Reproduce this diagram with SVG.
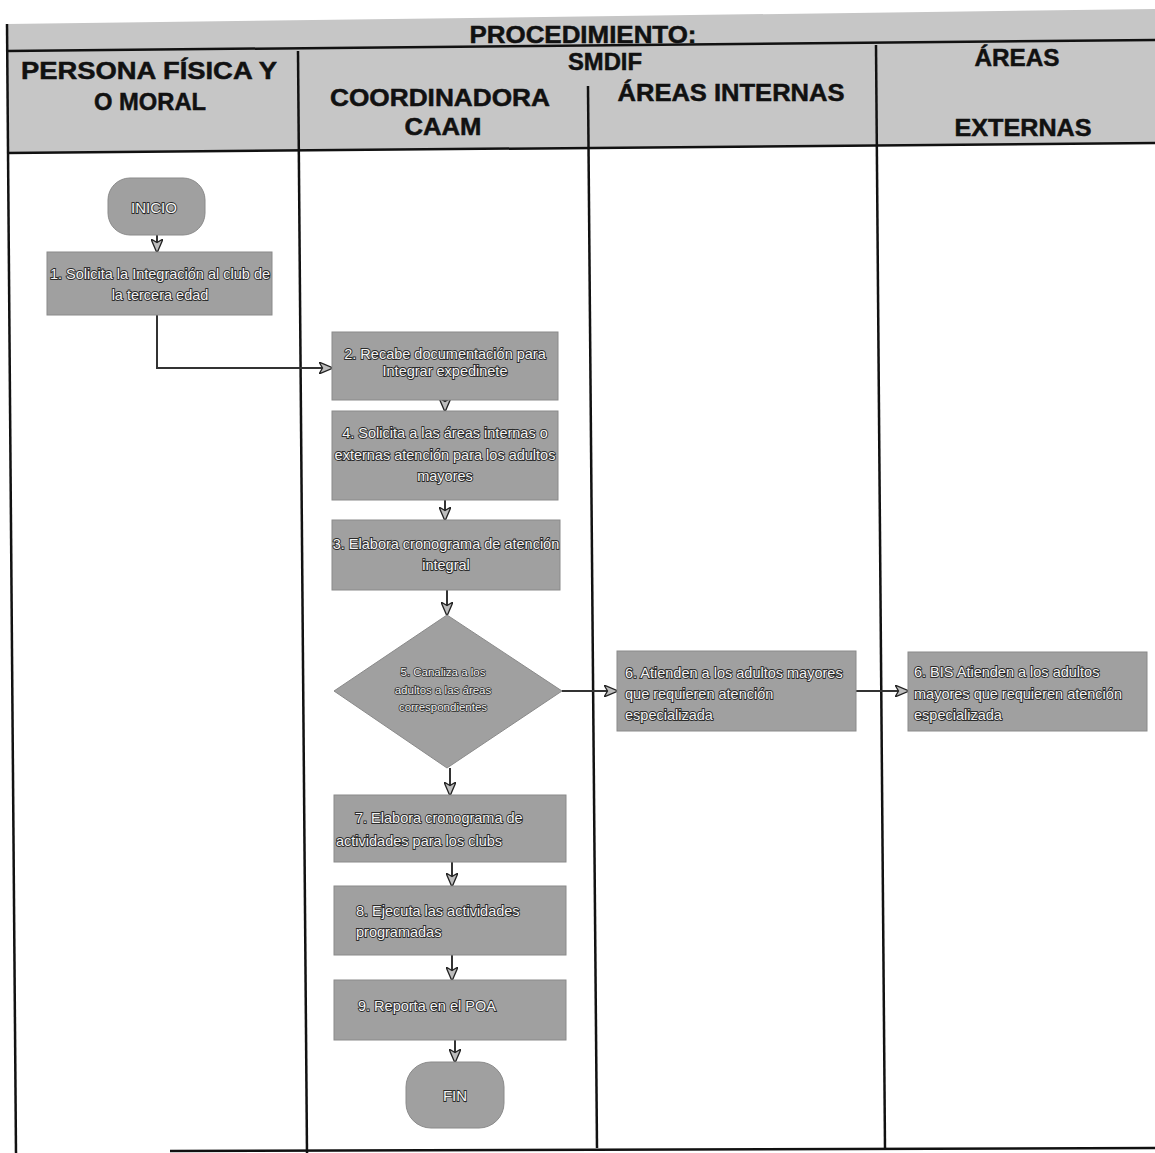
<svg xmlns="http://www.w3.org/2000/svg" width="1155" height="1153" viewBox="0 0 1155 1153">
  <defs>
    <style>
      .hdr { font-family: "Liberation Sans", Arial, sans-serif; font-weight: bold; font-size: 24px; fill: #111; stroke: #111; stroke-width: 0.5; text-anchor: middle; }
      .node { fill: #a0a0a0; stroke: #8a8a8a; stroke-width: 1; }
      .lbl { font-family: "Liberation Sans Narrow", "Liberation Sans", sans-serif; font-size: 14.5px; fill: #f4f4f4; stroke: #2a2a2a; stroke-width: 1.8; paint-order: stroke; }
      .mid { text-anchor: middle; }
      .small { font-size: 11.5px; stroke-width: 1.5; }
      .term { font-size: 15px; }
      .grid { stroke: #111; stroke-width: 2.5; fill: none; }
      .flow { stroke: #333; stroke-width: 2; fill: none; marker-end: url(#arrow); }
    </style>
    <marker id="arrow" viewBox="0 0 14 12" refX="13" refY="6" markerWidth="14" markerHeight="12" markerUnits="userSpaceOnUse" orient="auto">
      <path d="M0,0 L14,6 L0,12 L3.5,6 Z" fill="#bdbdbd" stroke="#222" stroke-width="1.3"/>
    </marker>
  </defs>

  <rect width="1155" height="1153" fill="#ffffff"/>

  <!-- header band with the lane grid -->
  <g id="header">
    <polygon points="7,24 1155,9 1155,143 7,153" fill="#c6c6c6"/>
    <g class="grid">
      <line x1="7" y1="51" x2="1155" y2="40"/>
      <line x1="7" y1="153" x2="1155" y2="143"/>
      <line x1="7" y1="24" x2="16" y2="1153"/>
      <line x1="298" y1="51" x2="307" y2="1153"/>
      <line x1="588" y1="86" x2="597" y2="1148"/>
      <line x1="876" y1="45" x2="885" y2="1148"/>
      <line x1="170" y1="1151" x2="1155" y2="1148"/>
    </g>
    <text class="hdr" x="583" y="43" textLength="227" lengthAdjust="spacingAndGlyphs">PROCEDIMIENTO:</text>
    <text class="hdr" x="149" y="79" textLength="256" lengthAdjust="spacingAndGlyphs">PERSONA FÍSICA Y</text>
    <text class="hdr" x="150" y="110" textLength="112" lengthAdjust="spacingAndGlyphs">O MORAL</text>
    <text class="hdr" x="605" y="70" textLength="74" lengthAdjust="spacingAndGlyphs">SMDIF</text>
    <text class="hdr" x="440" y="106" textLength="220" lengthAdjust="spacingAndGlyphs">COORDINADORA</text>
    <text class="hdr" x="443" y="135" textLength="77" lengthAdjust="spacingAndGlyphs">CAAM</text>
    <text class="hdr" x="731" y="101" textLength="227" lengthAdjust="spacingAndGlyphs">ÁREAS INTERNAS</text>
    <text class="hdr" x="1017" y="66" textLength="85" lengthAdjust="spacingAndGlyphs">ÁREAS</text>
    <text class="hdr" x="1023" y="136" textLength="137" lengthAdjust="spacingAndGlyphs">EXTERNAS</text>
  </g>

  <!-- connectors -->
  <g id="connectors">
    <path class="flow" d="M157,235 V252"/>
    <path class="flow" d="M157,315 V368 H332"/>
    <path class="flow" d="M445,400 V411"/>
    <path class="flow" d="M445,500 V520"/>
    <path class="flow" d="M447,590 V615"/>
    <path class="flow" d="M562,691 H617"/>
    <path class="flow" d="M856,691 H908"/>
    <path class="flow" d="M450,768 V795"/>
    <path class="flow" d="M452,862 V886"/>
    <path class="flow" d="M452,955 V980"/>
    <path class="flow" d="M455,1040 V1062"/>
  </g>

  <g id="inicio">
    <rect class="node" x="108" y="178" width="97" height="57" rx="22"/>
    <text class="lbl mid term" x="154" y="213">INICIO</text>
  </g>

  <g id="paso1">
    <rect class="node" x="47" y="252" width="225" height="63"/>
    <text class="lbl mid" x="160" y="279">1. Solicita la Integración al club de</text>
    <text class="lbl mid" x="160" y="300">la tercera edad</text>
  </g>

  <g id="paso2">
    <rect class="node" x="332" y="332" width="226" height="68"/>
    <text class="lbl mid" x="445" y="359">2. Recabe documentación para</text>
    <text class="lbl mid" x="445" y="376">Integrar expedinete</text>
  </g>

  <g id="paso4">
    <rect class="node" x="332" y="411" width="226" height="89"/>
    <text class="lbl mid" x="445" y="438">4. Solicita a las áreas internas o</text>
    <text class="lbl mid" x="445" y="460">externas atención para los adultos</text>
    <text class="lbl mid" x="445" y="481">mayores</text>
  </g>

  <g id="paso3">
    <rect class="node" x="332" y="520" width="228" height="70"/>
    <text class="lbl mid" x="446" y="549">3. Elabora cronograma de atención</text>
    <text class="lbl mid" x="446" y="570">integral</text>
  </g>

  <g id="paso5">
    <polygon class="node" points="447,615 562,691 447,768 334,691"/>
    <text class="lbl mid small" x="443" y="676">5. Canaliza a los</text>
    <text class="lbl mid small" x="443" y="694">adultos a las áreas</text>
    <text class="lbl mid small" x="443" y="711">correspondientes</text>
  </g>

  <g id="paso6">
    <rect class="node" x="617" y="651" width="239" height="80"/>
    <text class="lbl" x="625" y="678">6. Atienden a los adultos mayores</text>
    <text class="lbl" x="625" y="699">que requieren atención</text>
    <text class="lbl" x="625" y="720">especializada</text>
  </g>

  <g id="paso6bis">
    <rect class="node" x="908" y="652" width="239" height="79"/>
    <text class="lbl" x="914" y="677">6. BIS Atienden a los adultos</text>
    <text class="lbl" x="914" y="699">mayores que requieren atención</text>
    <text class="lbl" x="914" y="720">especializada</text>
  </g>

  <g id="paso7">
    <rect class="node" x="334" y="795" width="232" height="67"/>
    <text class="lbl" x="355" y="823">7. Elabora cronograma de</text>
    <text class="lbl" x="336" y="846">actividades para los clubs</text>
  </g>

  <g id="paso8">
    <rect class="node" x="334" y="886" width="232" height="69"/>
    <text class="lbl" x="356" y="916">8. Ejecuta las actividades</text>
    <text class="lbl" x="356" y="937">programadas</text>
  </g>

  <g id="paso9">
    <rect class="node" x="334" y="980" width="232" height="60"/>
    <text class="lbl" x="358" y="1011">9. Reporta en el POA</text>
  </g>

  <g id="fin">
    <rect class="node" x="406" y="1062" width="98" height="66" rx="25"/>
    <text class="lbl mid term" x="455" y="1101">FIN</text>
  </g>
</svg>
